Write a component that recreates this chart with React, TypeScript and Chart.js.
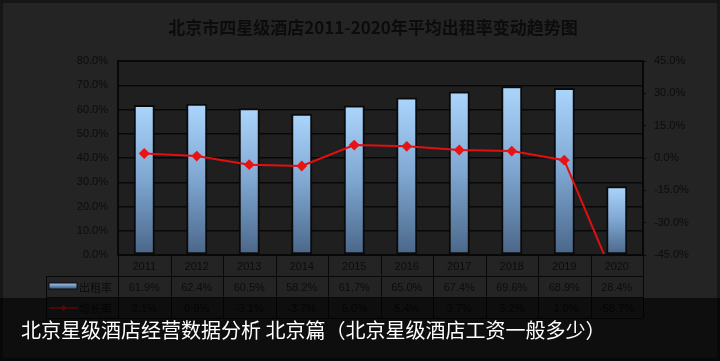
import React, { useEffect, useRef } from "react";
import { Chart, registerables } from "chart.js";

Chart.register(...registerables);

const titleText = "北京市四星级酒店2011-2020年平均出租率变动趋势图";
const captionText = "北京星级酒店经营数据分析 北京篇（北京星级酒店工资一般多少）";
const years = ["2011", "2012", "2013", "2014", "2015", "2016", "2017", "2018", "2019", "2020"];
const occupancy = [61.9, 62.4, 60.5, 58.2, 61.7, 65.0, 67.4, 69.6, 68.9, 28.4];
const growth = [2.1, 0.9, -3.1, -3.7, 6.0, 5.4, 3.7, 3.2, -1.0, -58.7];
const seriesNames = ["出租率", "增长率"];
const leftRange = [0, 80, 10];
const rightRange = [-45, 45, 15];

const W = 720;
const H = 361;
const TEXT = "#0c0c0c";
const LINE = "#080808";
const FONT = '"Liberation Sans", "Noto Sans CJK SC", sans-serif';

function barGradient(ctx: CanvasRenderingContext2D, top: number, bottom: number) {
  const g = ctx.createLinearGradient(0, top, 0, bottom);
  g.addColorStop(0, "#acd5fc");
  g.addColorStop(0.5, "#7ea6d0");
  g.addColorStop(1, "#4a6688");
  return g;
}

const framePlugin = {
  id: "frame",
  beforeDraw(chart: any) {
    const ctx = chart.ctx as CanvasRenderingContext2D;
    const a = chart.chartArea;
    ctx.save();
    ctx.fillStyle = "#242424";
    ctx.fillRect(0, 0, W, H);
    ctx.strokeStyle = "#161616";
    ctx.lineWidth = 3;
    ctx.strokeRect(1.5, 1.5, W - 3, H - 3);
    ctx.fillStyle = "#1f1f1f";
    ctx.fillRect(a.left, a.top, a.right - a.left, a.bottom - a.top);
    ctx.restore();
  },
  afterDraw(chart: any) {
    const ctx = chart.ctx as CanvasRenderingContext2D;
    const a = chart.chartArea;
    const x = chart.scales.x;
    ctx.save();
    // plot border
    ctx.strokeStyle = LINE;
    ctx.lineWidth = 2;
    ctx.strokeRect(a.left, a.top, a.right - a.left, a.bottom - a.top);

    // title
    ctx.fillStyle = TEXT;
    ctx.font = 'bold 17px "Noto Sans CJK SC", "Liberation Sans", sans-serif';
    ctx.textAlign = "center";
    ctx.textBaseline = "middle";
    ctx.fillText(titleText, 373, 28);

    // data table
    const rowH = 21;
    const r0 = a.bottom;
    const r1 = r0 + rowH;
    const r2 = r1 + rowH;
    const r3 = r2 + rowH;
    const tLeft = 46;
    const step = (a.right - a.left) / years.length;
    ctx.strokeStyle = LINE;
    ctx.lineWidth = 1;
    ctx.beginPath();
    ctx.moveTo(a.left, r1 + 0.5);
    ctx.lineTo(a.right, r1 + 0.5);
    ctx.moveTo(tLeft, r1 + 0.5);
    ctx.lineTo(a.left, r1 + 0.5);
    ctx.moveTo(tLeft, r2 + 0.5);
    ctx.lineTo(a.right, r2 + 0.5);
    ctx.moveTo(tLeft, r3 + 0.5);
    ctx.lineTo(a.right, r3 + 0.5);
    ctx.moveTo(tLeft + 0.5, r1);
    ctx.lineTo(tLeft + 0.5, r3);
    for (let i = 0; i <= years.length; i++) {
      const px = Math.round(a.left + step * i) + 0.5;
      ctx.moveTo(px, r0);
      ctx.lineTo(px, r3);
    }
    ctx.stroke();

    ctx.fillStyle = TEXT;
    ctx.font = "11px " + FONT;
    ctx.textAlign = "center";
    ctx.textBaseline = "middle";
    years.forEach((y, i) => {
      const cx = x.getPixelForValue(i);
      ctx.fillText(y, cx, r0 + rowH / 2 + 1);
      ctx.fillText(occupancy[i].toFixed(1) + "%", cx, r1 + rowH / 2 + 1);
      ctx.fillText(growth[i].toFixed(1) + "%", cx, r2 + rowH / 2 + 1);
    });

    // legend keys
    const sw = barGradient(ctx, r1 + 6, r1 + 12);
    ctx.fillStyle = sw;
    ctx.fillRect(49, r1 + 7, 28, 6);
    ctx.strokeStyle = "#0a0a0a";
    ctx.strokeRect(49, r1 + 7, 28, 6);
    ctx.strokeStyle = "#e01010";
    ctx.lineWidth = 1.5;
    ctx.beginPath();
    ctx.moveTo(49, r2 + 11);
    ctx.lineTo(78, r2 + 11);
    ctx.stroke();
    ctx.fillStyle = "#e01010";
    ctx.beginPath();
    ctx.moveTo(63.5, r2 + 8);
    ctx.lineTo(66.5, r2 + 11);
    ctx.lineTo(63.5, r2 + 14);
    ctx.lineTo(60.5, r2 + 11);
    ctx.closePath();
    ctx.fill();
    ctx.fillStyle = TEXT;
    ctx.textAlign = "left";
    ctx.font = '11px "Noto Sans CJK SC", sans-serif';
    ctx.fillText(seriesNames[0], 79, r1 + rowH / 2 + 1);
    ctx.fillText(seriesNames[1], 79, r2 + rowH / 2 + 1);
    ctx.restore();
  },
};

export default function App() {
  const ref = useRef<HTMLCanvasElement | null>(null);

  useEffect(() => {
    if (!ref.current) return;
    const chart = new Chart(ref.current, {
      type: "bar",
      data: {
        labels: years,
        datasets: [
          {
            type: "line",
            label: seriesNames[1],
            data: growth,
            yAxisID: "y1",
            borderColor: "#e01010",
            backgroundColor: "#e01010",
            borderWidth: 2,
            pointStyle: "rectRot",
            pointRadius: 4,
            pointBackgroundColor: "#e81414",
            pointBorderColor: "#e81414",
            tension: 0,
            order: 0,
          } as any,
          {
            type: "bar",
            label: seriesNames[0],
            data: occupancy,
            yAxisID: "y",
            backgroundColor: (c: any) => {
              const chart = c.chart;
              const ys = chart.scales && chart.scales.y;
              if (!ys || c.raw == null) return "#8fb8e0";
              const top = ys.getPixelForValue(c.raw);
              const bottom = ys.getPixelForValue(0);
              if (!isFinite(top) || !isFinite(bottom) || bottom - top < 1) return "#8fb8e0";
              return barGradient(chart.ctx, top, bottom);
            },
            borderColor: "#0a0a0a",
            borderWidth: 2,
            borderSkipped: false,
            barPercentage: 0.4,
            categoryPercentage: 1,
            order: 1,
          } as any,
        ],
      },
      options: {
        responsive: false,
        animation: false,
        maintainAspectRatio: false,
        layout: { padding: { top: 61, bottom: 106, left: 0, right: 0 } },
        plugins: {
          legend: { display: false },
          title: { display: false },
          tooltip: { enabled: false },
        },
        scales: {
          x: { display: false, offset: true },
          y: {
            position: "left",
            min: leftRange[0],
            max: leftRange[1],
            border: { display: false },
            grid: { color: LINE, lineWidth: 1.5, drawTicks: false },
            ticks: {
              stepSize: leftRange[2],
              padding: 10,
              color: TEXT,
              font: { size: 11, family: FONT },
              callback: (v: any) => Number(v).toFixed(1) + "%",
            },
            afterFit: (s: any) => {
              s.width = 118;
            },
          },
          y1: {
            position: "right",
            min: rightRange[0],
            max: rightRange[1],
            border: { display: false },
            grid: { drawOnChartArea: false, color: LINE, tickLength: 3 },
            ticks: {
              stepSize: rightRange[2],
              padding: 8,
              color: TEXT,
              font: { size: 11, family: FONT },
              callback: (v: any) => Number(v).toFixed(1) + "%",
            },
            afterFit: (s: any) => {
              s.width = 77;
            },
          },
        },
      },
      plugins: [framePlugin],
    });
    return () => chart.destroy();
  }, []);

  return (
    <div style={{ position: "fixed", left: 0, top: 0, width: W, height: H, overflow: "hidden" }}>
      <canvas ref={ref} width={W} height={H} style={{ display: "block", width: W, height: H }} />
      <div
        style={{
          position: "absolute",
          left: 0,
          top: 298,
          width: W,
          height: H - 298,
          background: "rgba(0,0,0,0.6)",
          display: "flex",
          alignItems: "center",
          paddingLeft: 21,
          boxSizing: "border-box",
          color: "#ffffff",
          fontFamily: '"Noto Sans CJK SC", sans-serif',
          fontSize: 20,
          whiteSpace: "nowrap",
        }}
      >
        {captionText}
      </div>
    </div>
  );
}
